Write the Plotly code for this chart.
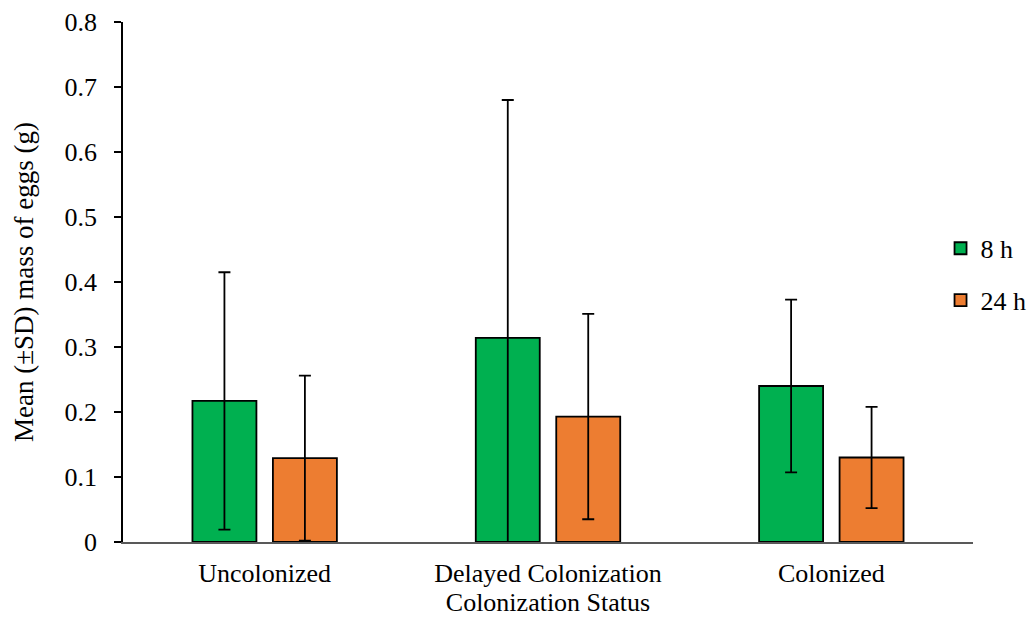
import plotly.graph_objects as go

categories = ["Uncolonized", "Delayed Colonization", "Colonized"]
series_names = ["8 h", "24 h"]
mean_8h = [0.217, 0.314, 0.240]
sd_8h = [0.198, 0.366, 0.133]
mean_24h = [0.129, 0.193, 0.130]
sd_24h = [0.127, 0.158, 0.078]
colors = ["#00B050", "#ED7D31"]
y_ticks = [0, 0.1, 0.2, 0.3, 0.4, 0.5, 0.6, 0.7, 0.8]
y_tick_text = ["0", "0.1", "0.2", "0.3", "0.4", "0.5", "0.6", "0.7", "0.8"]

FONT = "Liberation Serif, Times New Roman, serif"
FS = 26

fig = go.Figure()
for name, means, sds, col in [
    (series_names[0], mean_8h, sd_8h, colors[0]),
    (series_names[1], mean_24h, sd_24h, colors[1]),
]:
    fig.add_trace(go.Bar(
        x=categories, y=means, name=name, legendgroup=name,
        marker=dict(color=col, line=dict(color="black", width=1.8)),
        error_y=dict(type="data", array=sds, visible=True,
                     color="black", thickness=1.8, width=6),
    ))

fig.update_layout(
    width=1032, height=619,
    margin=dict(l=123, r=59, t=22, b=77, autoexpand=False),
    paper_bgcolor="white", plot_bgcolor="white",
    font=dict(family=FONT, size=FS, color="black"),
    barmode="group", bargap=0.432, bargroupgap=0.205,
    showlegend=True,
    legend=dict(x=0.9618, xanchor="left", y=0.5147, yanchor="middle",
                traceorder="grouped", tracegroupgap=15,
                font=dict(family=FONT, size=FS, color="black"),
                bgcolor="rgba(0,0,0,0)"),
    xaxis=dict(
        showline=True, linecolor="#595959", linewidth=1.5,
        ticks="", showgrid=False, zeroline=False,
        ticklabelstandoff=7,
        title=dict(text="Colonization Status", standoff=2,
                   font=dict(family=FONT, size=FS)),
        automargin=False,
    ),
    yaxis=dict(
        range=[0, 0.8], tickvals=y_ticks, ticktext=y_tick_text,
        showline=True, linecolor="black", linewidth=1.5,
        ticks="outside", ticklen=7, tickwidth=1.5, tickcolor="black",
        ticklabelstandoff=12,
        showgrid=False, zeroline=False,
        title=dict(text="Mean (±SD) mass of eggs (g)", standoff=23,
                   font=dict(family=FONT, size=27)),
        automargin=False,
    ),
)

fig.write_html("out.html")
